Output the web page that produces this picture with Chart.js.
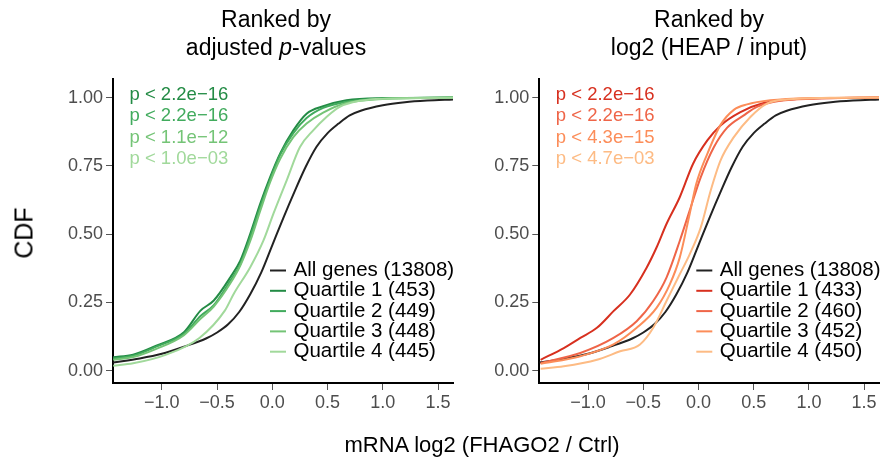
<!DOCTYPE html>
<html>
<head>
<meta charset="utf-8">
<script src="https://cdn.jsdelivr.net/npm/chart.js@4.4.1/dist/chart.umd.min.js"></script>
<style>
  html, body { margin: 0; padding: 0; background: #fff; }
  body { width: 881px; height: 465px; position: relative; overflow: hidden;
         font-family: "Liberation Sans", Arial, Helvetica, sans-serif; }
  canvas { position: absolute; top: 0; }
  #cLeft { left: 0; }
  #cRight { left: 440px; }
  .title { position: absolute; top: 5px; width: 300px; text-align: center;
           font-size: 23px; line-height: 28px; color: #000; }
  #tLeft { left: 126px; }
  #tRight { left: 559px; }
  #yLab { position: absolute; left: 24px; top: 233px; font-size: 25px; color: #000;
          transform: translate(-50%, -50%) rotate(-90deg); white-space: nowrap; }
  #xLab { position: absolute; left: 482px; top: 445px; font-size: 22px; color: #000;
          transform: translate(-50%, -50%); white-space: nowrap; }
</style>
</head>
<body>
<canvas id="cLeft" width="460" height="465"></canvas>
<canvas id="cRight" width="441" height="465"></canvas>
<div class="title" id="tLeft">Ranked by<br>adjusted <i>p</i>-values</div>
<div class="title" id="tRight">Ranked by<br>log2 (HEAP / input)</div>
<div id="yLab">CDF</div>
<div id="xLab">mRNA log2 (FHAGO2 / Ctrl)</div>
<script>
// Axis ticks
const xTicks = [-1.0, -0.5, 0.0, 0.5, 1.0, 1.5];
const yTicks = [0, 0.25, 0.5, 0.75, 1.0];

// All genes (same reference distribution in both panels)
const allGenesX = [-1.44, -1.2, -1.0, -0.8, -0.6, -0.5, -0.4, -0.3, -0.2, -0.1, 0.0, 0.1, 0.2, 0.3, 0.4, 0.5, 0.6, 0.7, 0.8, 1.0, 1.2, 1.4, 1.64];
const allGenesY = [0.03, 0.045, 0.062, 0.088, 0.118, 0.14, 0.17, 0.215, 0.28, 0.36, 0.46, 0.56, 0.655, 0.745, 0.82, 0.87, 0.905, 0.935, 0.952, 0.972, 0.983, 0.989, 0.993];

// Ranked by adjusted p-values: quartiles 1-3 share x positions
const padjX = [-1.44, -1.26, -1.05, -0.8, -0.65, -0.53, -0.38, -0.29, -0.2, -0.11, -0.02, 0.07, 0.19, 0.31, 0.46, 0.67, 1.0, 1.64];
const padjQ1Y = [0.049, 0.059, 0.092, 0.141, 0.22, 0.257, 0.342, 0.403, 0.501, 0.611, 0.709, 0.795, 0.88, 0.941, 0.968, 0.99, 0.998, 1.0];
const padjQ2Y = [0.045, 0.055, 0.088, 0.135, 0.2, 0.24, 0.33, 0.39, 0.49, 0.6, 0.7, 0.79, 0.87, 0.925, 0.962, 0.985, 0.997, 1.0];
const padjQ3Y = [0.04, 0.05, 0.08, 0.13, 0.19, 0.235, 0.32, 0.385, 0.475, 0.585, 0.69, 0.775, 0.855, 0.905, 0.945, 0.98, 0.995, 1.0];
const padjQ4X = [-1.44, -1.26, -0.96, -0.66, -0.43, -0.35, -0.2, -0.08, 0.01, 0.13, 0.25, 0.37, 0.49, 0.61, 0.79, 1.0, 1.64];
const padjQ4Y = [0.018, 0.027, 0.059, 0.12, 0.22, 0.281, 0.379, 0.477, 0.575, 0.697, 0.819, 0.88, 0.929, 0.966, 0.988, 0.996, 0.999];

// Ranked by log2 (HEAP / input)
const heapQ1X = [-1.43, -1.22, -1.07, -0.92, -0.77, -0.62, -0.47, -0.38, -0.29, -0.17, -0.05, 0.08, 0.2, 0.38, 0.59, 0.89, 1.64];
const heapQ1Y = [0.04, 0.083, 0.12, 0.157, 0.218, 0.279, 0.377, 0.451, 0.537, 0.635, 0.757, 0.843, 0.898, 0.947, 0.98, 0.995, 1.0];
const heapQ2X = [-1.43, -1.07, -0.77, -0.56, -0.41, -0.29, -0.17, -0.08, 0.02, 0.14, 0.26, 0.41, 0.53, 0.74, 1.04, 1.64];
const heapQ2Y = [0.028, 0.065, 0.12, 0.181, 0.255, 0.341, 0.475, 0.586, 0.708, 0.819, 0.89, 0.935, 0.966, 0.988, 0.996, 1.0];
const heapQ3X = [-1.43, -1.07, -0.77, -0.56, -0.38, -0.26, -0.17, -0.08, -0.02, 0.08, 0.2, 0.32, 0.44, 0.65, 1.04, 1.64];
const heapQ3Y = [0.025, 0.053, 0.096, 0.157, 0.23, 0.316, 0.414, 0.574, 0.684, 0.794, 0.9, 0.955, 0.975, 0.99, 0.998, 1.0];
const heapQ4X = [-1.43, -1.22, -0.92, -0.71, -0.53, -0.41, -0.29, -0.17, -0.08, 0.02, 0.11, 0.2, 0.32, 0.47, 0.62, 0.8, 1.19, 1.64];
const heapQ4Y = [0.007, 0.016, 0.04, 0.071, 0.096, 0.157, 0.255, 0.353, 0.426, 0.524, 0.659, 0.77, 0.855, 0.929, 0.978, 0.993, 0.999, 1.0];

// Legend labels and test results
const padjLabels = ['All genes (13808)', 'Quartile 1 (453)', 'Quartile 2 (449)', 'Quartile 3 (448)', 'Quartile 4 (445)'];
const heapLabels = ['All genes (13808)', 'Quartile 1 (433)', 'Quartile 2 (460)', 'Quartile 3 (452)', 'Quartile 4 (450)'];
const padjPValues = ['p < 2.2e\u221216', 'p < 2.2e\u221216', 'p < 1.1e\u221212', 'p < 1.0e\u221203'];
const heapPValues = ['p < 2.2e\u221216', 'p < 2.2e\u221216', 'p < 4.3e\u221215', 'p < 4.7e\u221203'];

const greens = ['#238b45', '#41ab5d', '#74c476', '#a1d99b'];
const oranges = ['#d7301f', '#ef6548', '#fc8d59', '#fdbb84'];
const FONT = '"Liberation Sans", Arial, Helvetica, sans-serif';

function pts(xs, ys) { return xs.map((x, i) => ({ x: x, y: ys[i] })); }
function fmt(v, d) { return (v < 0 ? '\u2212' : '') + Math.abs(v).toFixed(d); }

function buildDatasets(series, labels, colors) {
  return series.map((s, i) => ({
    label: labels[i],
    data: pts(s[0], s[1]),
    borderColor: i === 0 ? '#222222' : colors[i - 1],
    borderWidth: 2,
    pointRadius: 0,
    fill: false,
    cubicInterpolationMode: 'monotone',
    order: series.length - i
  }));
}

// Draws the in-panel legend and the p-value annotations
const annotations = {
  id: 'annotations',
  afterDraw(chart, args, opts) {
    const ctx = chart.ctx, a = chart.chartArea;
    ctx.save();
    ctx.font = '18.5px ' + FONT;
    ctx.textBaseline = 'middle';
    ctx.textAlign = 'left';
    opts.pvalues.forEach((t, i) => {
      ctx.fillStyle = opts.colors[i];
      ctx.fillText(t, a.left + 16.5, a.top + 15.5 + i * 21.6);
    });
    ctx.font = '20.5px ' + FONT;
    chart.data.datasets.forEach((ds, i) => {
      const y = a.top + 191.5 + i * 20.3;
      ctx.strokeStyle = ds.borderColor;
      ctx.lineWidth = 2;
      ctx.beginPath();
      ctx.moveTo(a.left + 157, y);
      ctx.lineTo(a.left + 173, y);
      ctx.stroke();
      ctx.fillStyle = '#000';
      ctx.fillText(ds.label, a.left + 180.5, y);
    });
    ctx.restore();
  }
};

function makeChart(id, datasets, yWidth, padRight, pvalues, colors) {
  return new Chart(document.getElementById(id), {
    type: 'line',
    data: { datasets: datasets },
    plugins: [annotations],
    options: {
      responsive: false,
      animation: false,
      events: [],
      layout: { padding: { top: 79, right: padRight, bottom: 0, left: 0 } },
      plugins: {
        legend: { display: false },
        tooltip: { enabled: false },
        annotations: { pvalues: pvalues, colors: colors }
      },
      scales: {
        x: {
          type: 'linear', min: -1.442, max: 1.635,
          afterBuildTicks: s => { s.ticks = xTicks.map(v => ({ value: v })); },
          afterFit: s => { s.height = 82; },
          grid: { display: true, drawOnChartArea: false, drawTicks: true, tickLength: 7, color: '#555', lineWidth: 1 },
          border: { display: true, color: '#000', width: 2 },
          ticks: { color: '#4d4d4d', font: { size: 18, family: FONT }, padding: 2, maxRotation: 0, autoSkip: false,
                   callback: v => fmt(v, 1) }
        },
        y: {
          type: 'linear', min: -0.045, max: 1.068,
          afterBuildTicks: s => { s.ticks = yTicks.map(v => ({ value: v })); },
          afterFit: s => { s.width = yWidth; },
          grid: { display: true, drawOnChartArea: false, drawTicks: true, tickLength: 7, color: '#555', lineWidth: 1 },
          border: { display: true, color: '#000', width: 2 },
          ticks: { color: '#4d4d4d', font: { size: 18, family: FONT }, padding: 3,
                   callback: v => fmt(v, 2) }
        }
      }
    }
  });
}

makeChart('cLeft', buildDatasets([
  [allGenesX, allGenesY], [padjX, padjQ1Y], [padjX, padjQ2Y], [padjX, padjQ3Y], [padjQ4X, padjQ4Y]
], padjLabels, greens), 113, 7, padjPValues, greens);

makeChart('cRight', buildDatasets([
  [allGenesX, allGenesY], [heapQ1X, heapQ1Y], [heapQ2X, heapQ2Y], [heapQ3X, heapQ3Y], [heapQ4X, heapQ4Y]
], heapLabels, oranges), 99.3, 2, heapPValues, oranges);
</script>
</body>
</html>
